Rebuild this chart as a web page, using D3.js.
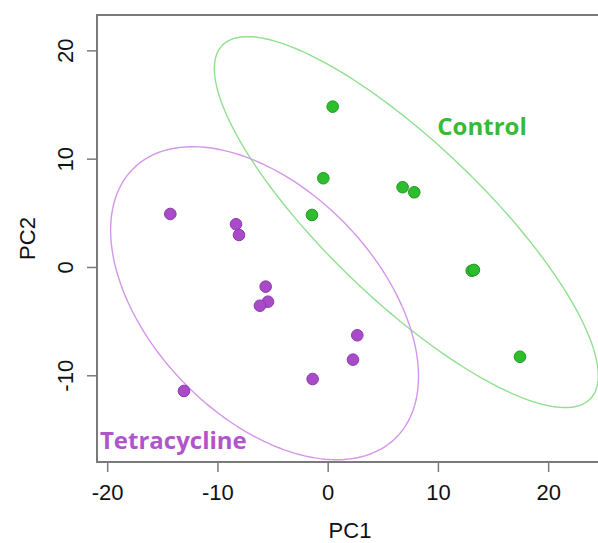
<!DOCTYPE html>
<html>
<head>
<meta charset="utf-8">
<script src="https://cdn.jsdelivr.net/npm/d3@7"></script>
<style>
  body { margin: 0; background: #fff; }
  svg { display: block; }
</style>
</head>
<body>
<div id="chart"></div>
<script>
// PCA scores
const controlPC1 = [0.41, -0.44, -1.47, 6.75, 7.81, 13.02, 13.22, 17.40];
const controlPC2 = [14.85, 8.24, 4.85, 7.41, 6.94, -0.30, -0.23, -8.24];
const tetraPC1 = [-14.32, -8.36, -8.09, -5.67, -5.46, -6.19, 2.64, 2.25, -1.41, -13.08];
const tetraPC2 = [4.94, 3.99, 3.00, -1.77, -3.16, -3.53, -6.26, -8.51, -10.30, -11.40];
const xTicks = [-20, -10, 0, 10, 20];
const yTicks = [-10, 0, 10, 20];
const groupNames = ["Control", "Tetracycline"];

const width = 598, height = 543;
const plotL = 97, plotR = 603, plotT = 15, plotB = 462;
const axisFont = "'Liberation Sans', Arial, sans-serif";

const svg = d3.select("#chart").append("svg")
  .attr("width", width)
  .attr("height", height);

const x = d3.scaleLinear().domain([-20.97, 24.93]).range([plotL, plotR]);
const y = d3.scaleLinear().domain([-17.96, 23.31]).range([plotB, plotT]);

const groups = [
  { name: groupNames[0], xs: controlPC1, ys: controlPC2,
    fill: "#2dbd2d", stroke: "#1f9a1f", ring: "#8fe08f", label: "#35bb35",
    lx: 9.9, ly: 12.2 },
  { name: groupNames[1], xs: tetraPC1, ys: tetraPC2,
    fill: "#a94bc9", stroke: "#8c3aab", ring: "#d596ea", label: "#b055cc",
    lx: -20.7, ly: -16.8 }
];

// 95% normal data ellipse from the group covariance
function ellipse(xs, ys) {
  const n = xs.length;
  const mx = d3.mean(xs), my = d3.mean(ys);
  let sxx = 0, syy = 0, sxy = 0;
  for (let i = 0; i < n; i++) {
    sxx += (xs[i] - mx) ** 2;
    syy += (ys[i] - my) ** 2;
    sxy += (xs[i] - mx) * (ys[i] - my);
  }
  sxx /= n - 1; syy /= n - 1; sxy /= n - 1;
  const m = (sxx + syy) / 2;
  const d = Math.sqrt(((sxx - syy) / 2) ** 2 + sxy ** 2);
  const l1 = m + d, l2 = m - d;
  const theta = Math.atan2(l1 - sxx, sxy);
  const k = Math.sqrt(5.991);
  const a = Math.sqrt(l1) * k, b = Math.sqrt(l2) * k;
  return d3.range(0, 361, 2).map(deg => {
    const t = deg * Math.PI / 180;
    const ex = a * Math.cos(t), ey = b * Math.sin(t);
    return [mx + ex * Math.cos(theta) - ey * Math.sin(theta),
            my + ex * Math.sin(theta) + ey * Math.cos(theta)];
  });
}

svg.append("defs").append("clipPath").attr("id", "plotclip")
  .append("rect")
  .attr("x", plotL).attr("y", plotT)
  .attr("width", plotR - plotL).attr("height", plotB - plotT);

const plot = svg.append("g").attr("clip-path", "url(#plotclip)");

const line = d3.line().x(d => x(d[0])).y(d => y(d[1])).curve(d3.curveLinearClosed);

groups.forEach(g => {
  plot.append("path")
    .attr("d", line(ellipse(g.xs, g.ys)))
    .attr("fill", "none")
    .attr("stroke", g.ring)
    .attr("stroke-width", 1.4);
});

groups.forEach(g => {
  plot.append("g").selectAll("circle")
    .data(g.xs.map((v, i) => [v, g.ys[i]]))
    .enter()
    .append("circle")
    .attr("cx", d => x(d[0]))
    .attr("cy", d => y(d[1]))
    .attr("r", 5.8)
    .attr("fill", g.fill)
    .attr("stroke", g.stroke)
    .attr("stroke-width", 1);
});

groups.forEach(g => {
  svg.append("text")
    .attr("x", x(g.lx))
    .attr("y", y(g.ly))
    .style("font-family", "'Open Sans', Lato, sans-serif")
    .style("font-weight", "bold")
    .style("font-size", "24px")
    .attr("fill", g.label)
    .text(g.name);
});

// frame (left, top, bottom; right side is cut off)
const frame = "#7a7a7a";
svg.append("path")
  .attr("d", `M${plotR},${plotT}H${plotL}V${plotB}H${plotR}`)
  .attr("fill", "none")
  .attr("stroke", frame)
  .attr("stroke-width", 2);

const xAxis = svg.append("g");
xAxis.selectAll("line").data(xTicks).enter().append("line")
  .attr("x1", d => x(d)).attr("x2", d => x(d))
  .attr("y1", plotB).attr("y2", plotB + 10)
  .attr("stroke", frame).attr("stroke-width", 1.5);
xAxis.selectAll("text").data(xTicks).enter().append("text")
  .attr("x", d => x(d)).attr("y", 500)
  .attr("text-anchor", "middle")
  .style("font-family", axisFont)
  .style("font-size", "22px")
  .attr("fill", "#111")
  .text(d => d);

const yAxis = svg.append("g");
yAxis.selectAll("line").data(yTicks).enter().append("line")
  .attr("x1", plotL - 10).attr("x2", plotL)
  .attr("y1", d => y(d)).attr("y2", d => y(d))
  .attr("stroke", frame).attr("stroke-width", 1.5);
yAxis.selectAll("text").data(yTicks).enter().append("text")
  .attr("transform", d => `translate(73,${y(d)}) rotate(-90)`)
  .attr("text-anchor", "middle")
  .style("font-family", axisFont)
  .style("font-size", "22px")
  .attr("fill", "#111")
  .text(d => d);

svg.append("text")
  .attr("x", (plotL + plotR) / 2).attr("y", 538)
  .attr("text-anchor", "middle")
  .style("font-family", axisFont)
  .style("font-size", "22px")
  .attr("fill", "#111")
  .text("PC1");

svg.append("text")
  .attr("transform", `translate(35,${(plotT + plotB) / 2}) rotate(-90)`)
  .attr("text-anchor", "middle")
  .style("font-family", axisFont)
  .style("font-size", "22px")
  .attr("fill", "#111")
  .text("PC2");
</script>
</body>
</html>
